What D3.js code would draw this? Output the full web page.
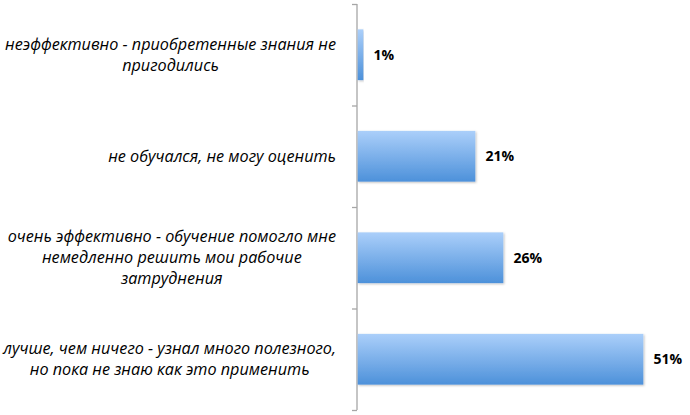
<!DOCTYPE html>
<html>
<head>
<meta charset="utf-8">
<script src="https://cdn.jsdelivr.net/npm/d3@7"></script>
<style>
  body { margin: 0; background: #fff; }
  svg { display: block; }
</style>
</head>
<body>
<div id="chart"></div>
<script>
// категории (сверху вниз) и доли ответов
const categories = [
    ['неэффективно - приобретенные знания не', 'пригодились'],
    ['не обучался, не могу оценить'],
    ['очень эффективно - обучение помогло мне', 'немедленно решить мои рабочие', 'затруднения'],
    ['лучше, чем ничего - узнал много полезного,', 'но пока не знаю как это применить']
];
const values = [0.01, 0.21, 0.26, 0.51];
const valueLabels = ['1%', '21%', '26%', '51%'];

const width = 690, height = 415;
const margin = { top: 4, right: 0, bottom: 5, left: 357 };
const innerW = width - margin.left - margin.right;
const innerH = height - margin.top - margin.bottom;

const svg = d3.select('#chart').append('svg')
    .attr('width', width).attr('height', height);

// градиент полос
const defs = svg.append('defs');
const grad = defs.append('linearGradient').attr('id', 'barGrad')
    .attr('x1', 0).attr('y1', 0).attr('x2', 0).attr('y2', 1);
grad.append('stop').attr('offset', '0%').attr('stop-color', '#abcffa');
grad.append('stop').attr('offset', '100%').attr('stop-color', '#4d91da');

const shadow = defs.append('filter').attr('id', 'shadow')
    .attr('x', '-5%').attr('y', '-10%').attr('width', '115%').attr('height', '130%');
shadow.append('feDropShadow').attr('dx', 1).attr('dy', 1).attr('stdDeviation', 0.8)
    .attr('flood-color', '#000').attr('flood-opacity', 0.25);

const g = svg.append('g').attr('transform', `translate(${margin.left},${margin.top})`);

const idx = d3.range(categories.length);
const y = d3.scaleBand().domain(idx).range([0, innerH]).paddingInner(0.5).paddingOuter(0.25);
const x = d3.scaleLinear().domain([0, 0.6]).range([0, 336]);

// ось: вертикальная линия с делениями между категориями
const yEdge = d3.scaleLinear().domain([0, categories.length]).range([0, innerH]);
const axis = g.append('g').attr('class', 'y-axis')
    .call(d3.axisLeft(yEdge).tickValues(d3.range(categories.length + 1)).tickSize(5).tickFormat(''));
axis.select('.domain').remove();
axis.selectAll('.tick line').attr('stroke', '#a6a6a6').attr('stroke-width', 1.3);
g.append('line').attr('x1', 0).attr('x2', 0).attr('y1', 0).attr('y2', innerH)
    .attr('stroke', '#a6a6a6').attr('stroke-width', 1.3);

// полосы
g.selectAll('.bar').data(values).enter().append('rect')
    .attr('class', 'bar')
    .attr('x', 0.7)
    .attr('y', (d, i) => y(i))
    .attr('height', y.bandwidth())
    .attr('width', d => x(d))
    .attr('fill', 'url(#barGrad)')
    .attr('filter', 'url(#shadow)');

// подписи значений
g.selectAll('.val').data(values).enter().append('text')
    .attr('class', 'val')
    .attr('x', d => x(d) + 11)
    .attr('y', (d, i) => y(i) + y.bandwidth() / 2)
    .attr('dy', '0.35em')
    .style('font-family', '"Open Sans", "DejaVu Sans", sans-serif')
    .style('font-weight', 'bold')
    .style('font-size', '14px')
    .style('fill', '#000')
    .text((d, i) => valueLabels[i]);

// подписи категорий: строки по центру, блок выровнен по правому краю
const lineH = 21;
const rightEdge = 336;
categories.forEach((lines, i) => {
    const cy = margin.top + y(i) + y.bandwidth() / 2;
    const t = svg.append('text')
        .style('font-family', '"Open Sans", "Noto Sans", sans-serif')
        .style('font-style', 'italic')
        .style('font-size', '16.2px')
        .style('fill', '#000')
        .attr('text-anchor', 'middle');
    const spans = lines.map((line, k) => t.append('tspan')
        .attr('y', cy + (k - (lines.length - 1) / 2) * lineH)
        .attr('dy', '0.35em')
        .text(line));
    const maxW = d3.max(spans, s => s.node().getComputedTextLength());
    spans.forEach(s => s.attr('x', rightEdge - maxW / 2));
});
</script>
</body>
</html>
